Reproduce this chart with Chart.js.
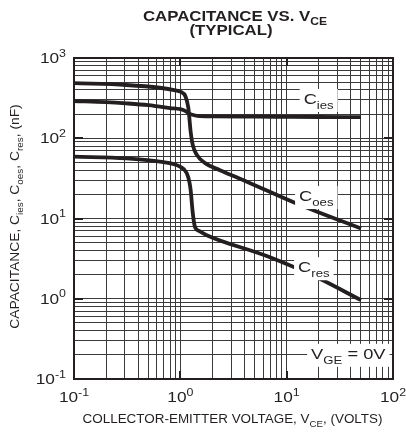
<!DOCTYPE html>
<html><head><meta charset="utf-8">
<script src="https://cdn.jsdelivr.net/npm/chart.js@4.4.1/dist/chart.umd.min.js"></script>
<style>html,body{margin:0;padding:0;background:#fff;}#wrap{width:406px;height:432px;}</style>
</head><body><div id="wrap"><canvas id="c" width="406" height="432"></canvas></div>
<script>
// ---- data ----
const vCies = [0.1, 0.2, 0.31, 0.5, 0.64, 0.8, 1.0, 1.12, 1.19, 1.3, 1.45, 2, 5, 10, 20, 50];
const cies  = [291, 282, 272, 258, 247, 238, 230, 218, 205, 196, 190, 187, 186, 185, 184, 183];
const vCoes = [0.1, 0.31, 0.64, 0.9, 1.0, 1.12, 1.19, 1.25, 1.31, 1.43, 1.71, 2.36, 4.22, 13.4, 50];
const coes  = [485, 461, 426, 395, 380, 330, 238, 121, 82, 62, 49, 40, 28.8, 14.7, 7.5];
const vCres = [0.1, 0.31, 0.64, 1.0, 1.15, 1.22, 1.25, 1.31, 1.37, 1.5, 1.77, 6.5, 20, 50];
const cres  = [59, 56, 51, 44, 36.6, 28, 22.6, 11.6, 7.9, 7.0, 6.2, 3.4, 1.8, 0.96];
const xTickExp = [-1, 0, 1, 2];
const yTickExp = [-1, 0, 1, 2, 3];
const seriesLabels = [
  {base:'C', sub:'ies', series:'Cies'},
  {base:'C', sub:'oes', series:'Coes'},
  {base:'C', sub:'res', series:'Cres'}
];
const labelAnchors = [ {x:20, y:300}, {x:19, y:18.5}, {x:18, y:2.4} ];  // value-space anchors of label centres
const condAnchor = {x:38, y:0.2};
const titleLine1 = ['CAPACITANCE VS. V', 'CE'];
const titleLine2 = '(TYPICAL)';
const xTitle = [['COLLECTOR-EMITTER VOLTAGE, V',''],['CE','sub'],[', (VOLTS)','']];
const yTitle = [['CAPACITANCE, C',''],['ies','sub'],[', C',''],['oes','sub'],[', C',''],['res','sub'],[', (nF)','']];

// grid values: every integer multiple inside each decade
function decadeGrid(lo, hi){ const out=[]; for(let e=lo;e<hi;e++){ for(let m=1;m<10;m++) out.push(m*Math.pow(10,e)); } out.push(Math.pow(10,hi)); return out; }
const xGrid = decadeGrid(-1, 2);
const yGrid = decadeGrid(-1, 3);

const INK = '#231f20';
const FONT = '"Liberation Sans", Arial, Helvetica, sans-serif';

function drawRich(ctx, segs, x, y, opts){
  const size = opts.size, sx = opts.sx||1, bold = opts.bold?'bold ':'';
  const parts = segs.map(([t,k])=>{
    const fs = k? size*0.72 : size;
    ctx.font = bold + fs + 'px ' + FONT;
    return {t, k, fs, w: ctx.measureText(t).width};
  });
  const total = parts.reduce((a,p)=>a+p.w,0);
  ctx.save();
  ctx.translate(x, y);
  if (opts.rot) ctx.rotate(opts.rot);
  ctx.scale(sx, 1);
  let cx = opts.align==='center' ? -total/2 : opts.align==='right' ? -total : 0;
  ctx.fillStyle = INK; ctx.textBaseline = 'alphabetic'; ctx.textAlign = 'left';
  for (const p of parts){
    ctx.font = bold + p.fs + 'px ' + FONT;
    const dy = p.k==='sub' ? size*0.32 : p.k==='sup' ? -size*0.42 : 0;
    ctx.fillText(p.t, cx, dy);
    cx += p.w;
  }
  ctx.restore();
  return total*sx;
}
function richWidth(ctx, segs, size, sx, bold){
  let w=0; for(const [t,k] of segs){ ctx.font=(bold?'bold ':'')+(k?size*0.72:size)+'px '+FONT; w+=ctx.measureText(t).width; } return w*(sx||1);
}

const decorPlugin = {
  id:'decor',
  beforeDatasetsDraw(chart){
    const {ctx, chartArea:a, scales:{x,y}} = chart;
    ctx.save();
    ctx.strokeStyle = INK; ctx.lineWidth = 2;
    ctx.strokeRect(a.left, a.top, a.right-a.left, a.bottom-a.top);
    ctx.lineWidth = 2;
    for (const e of yTickExp){
      const py = Math.round(y.getPixelForValue(Math.pow(10,e)));
      if (py<=a.top+1 || py>=a.bottom-1) continue;
      ctx.beginPath(); ctx.moveTo(a.left,py); ctx.lineTo(a.left+9,py); ctx.moveTo(a.right,py); ctx.lineTo(a.right-9,py); ctx.stroke();
    }
    for (const e of xTickExp){
      const px = Math.round(x.getPixelForValue(Math.pow(10,e)));
      if (px<=a.left+1 || px>=a.right-1) continue;
      ctx.beginPath(); ctx.moveTo(px,a.top); ctx.lineTo(px,a.top+8); ctx.moveTo(px,a.bottom); ctx.lineTo(px,a.bottom-8); ctx.stroke();
    }
    ctx.restore();
  },
  afterDraw(chart){
    const {ctx, chartArea:a, scales:{x,y}} = chart;
    ctx.save();
    for (const e of yTickExp){
      const py = y.getPixelForValue(Math.pow(10,e));
      drawRich(ctx, [['10',''],[String(e),'sup']], a.left-8, py+5, {size:15, sx:1.15, align:'right'});
    }
    for (const e of xTickExp){
      const px = x.getPixelForValue(Math.pow(10,e));
      drawRich(ctx, [['10',''],[String(e),'sup']], px, a.bottom+23, {size:15, sx:1.15, align:'center'});
    }
    drawRich(ctx, xTitle, (a.left+a.right)/2 - 1, a.bottom+44, {size:12, sx:1.12, align:'center'});
    drawRich(ctx, yTitle, 19, (a.top+a.bottom)/2 - 2, {size:12, sx:1.15, align:'center', rot:-Math.PI/2});
    drawRich(ctx, [[titleLine1[0],''],[titleLine1[1],'sub']], 235, 21, {size:14, sx:1.2, align:'center', bold:true});
    drawRich(ctx, [[titleLine2,'']], 231, 35, {size:14, sx:1.2, align:'center', bold:true});
    const boxes = seriesLabels.map((l,i)=>({segs:[[l.base,''],[l.sub,'sub']], at:labelAnchors[i]}));
    boxes.push({segs:[['V',''],['GE','sub'],[' = 0V','']], at:condAnchor});
    for (const b of boxes){
      const cx = x.getPixelForValue(b.at.x), cy = y.getPixelForValue(b.at.y);
      const w = richWidth(ctx, b.segs, 15, 1.22);
      ctx.fillStyle = '#fff';
      ctx.fillRect(cx - w/2 - 4, cy - 11, w + 8, 23);
      drawRich(ctx, b.segs, cx, cy+4, {size:15, sx:1.22, align:'center'});
    }
    ctx.restore();
  }
};

const gridCfg = {color:'#3a3a3a', lineWidth:1, drawTicks:false};
const lineStyle = {borderColor:INK, borderWidth:3.8, pointRadius:0, fill:false, cubicInterpolationMode:'monotone', borderCapStyle:'butt', borderJoinStyle:'round'};

new Chart(document.getElementById('c'), {
  type:'line',
  data:{datasets:[
    Object.assign({label:'Cies', data:vCies.map((v,i)=>({x:v,y:cies[i]}))}, lineStyle),
    Object.assign({label:'Coes', data:vCoes.map((v,i)=>({x:v,y:coes[i]}))}, lineStyle),
    Object.assign({label:'Cres', data:vCres.map((v,i)=>({x:v,y:cres[i]}))}, lineStyle)
  ]},
  options:{
    responsive:false, animation:false, devicePixelRatio:1,
    layout:{padding:{left:74, right:13, top:58, bottom:53}},
    plugins:{legend:{display:false}, tooltip:{enabled:false}, title:{display:false}},
    scales:{
      x:{type:'logarithmic', min:0.1, max:100, ticks:{display:false, autoSkip:false}, grid:gridCfg, border:{display:false},
         afterBuildTicks:s=>{ s.ticks = xGrid.map(v=>({value:v})); }},
      y:{type:'logarithmic', min:0.1, max:1000, ticks:{display:false, autoSkip:false}, grid:gridCfg, border:{display:false},
         afterBuildTicks:s=>{ s.ticks = yGrid.map(v=>({value:v})); }}
    }
  },
  plugins:[decorPlugin]
});
</script></body></html>
